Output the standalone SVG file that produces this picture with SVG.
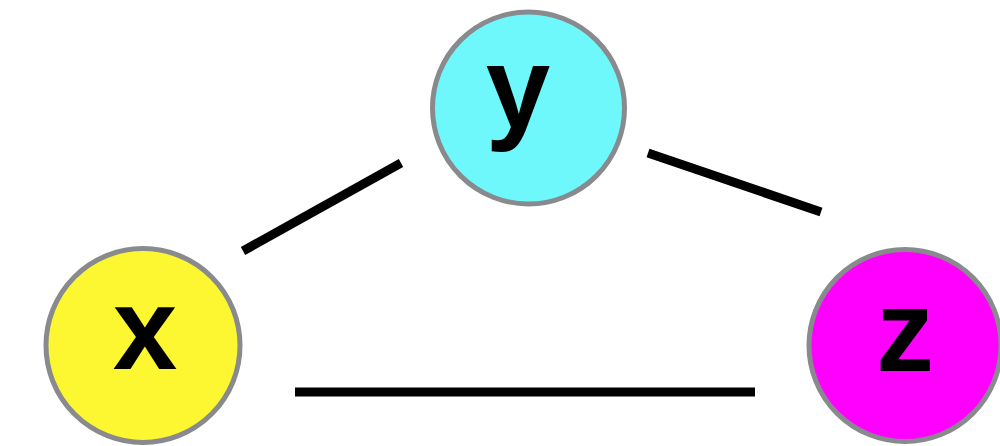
<svg xmlns="http://www.w3.org/2000/svg" width="1000" height="446" viewBox="0 0 1000 446">
<style>
.node{stroke:#888a8e;stroke-width:5}
.lbl{font-family:"Liberation Sans",Arial,sans-serif;font-size:116px;font-weight:bold;text-anchor:middle;fill:#000}
.edge{stroke:#000;stroke-width:9;fill:none}
</style>
<rect width="1000" height="446" fill="#fff"/>
<g id="connectors">
<line class="edge" x1="243" y1="251" x2="401" y2="163"/>
<line class="edge" x1="648" y1="153" x2="821" y2="212"/>
<line class="edge" x1="295" y1="392" x2="755" y2="392"/>
</g>
<g id="node-y">
<circle class="node" cx="528.5" cy="108" r="96" fill="#6ef8fb"/>
<text class="lbl" x="518" y="128">y</text>
</g>
<g id="node-x">
<circle class="node" cx="143" cy="345.5" r="97" fill="#fdf731"/>
<text class="lbl" x="145" y="369">x</text>
</g>
<g id="node-z">
<circle class="node" cx="905" cy="345.5" r="96" fill="#ff00ff"/>
<text class="lbl" x="905" y="371">z</text>
</g>
</svg>
